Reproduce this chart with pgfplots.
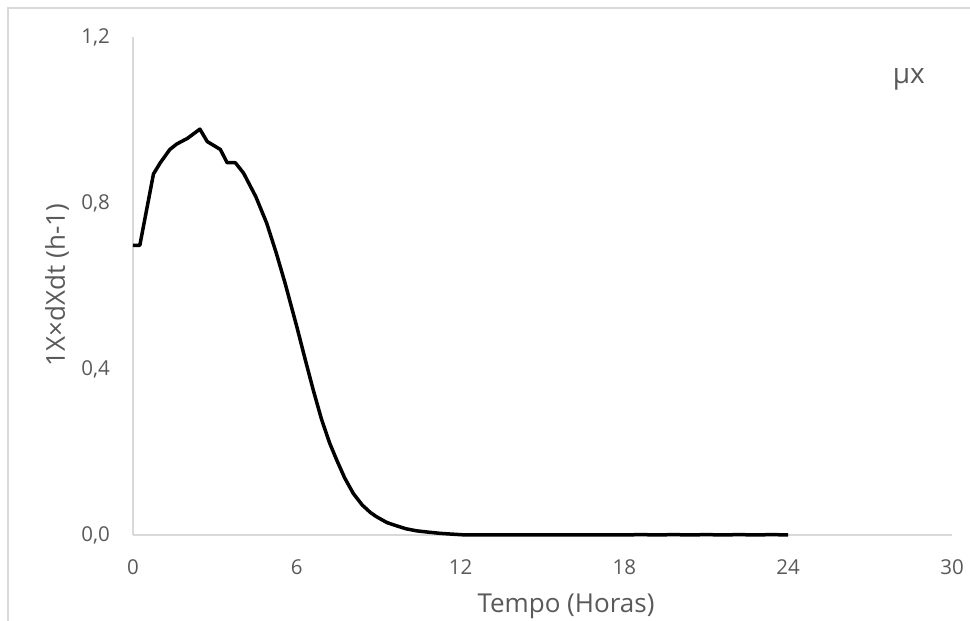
\documentclass[border=0pt]{standalone}
\usepackage{fontspec}
\setmainfont{Open Sans}
\usepackage{pgfplots}
\pgfplotsset{compat=1.18}
\definecolor{txtgray}{HTML}{595959}
\definecolor{axgray}{HTML}{D9D9D9}

\begin{document}
\begin{tikzpicture}
\begin{axis}[
    scale only axis,
    width=819pt, height=498pt,
    xmin=0, xmax=30, ymin=0, ymax=1.2,
    axis lines=left,
    axis line style={-, draw=axgray, line width=1.3pt},
    xtick={0,6,...,30},
    ytick={0,0.4,0.8,1.2},
    major tick length=0pt,
    /pgf/number format/assume math mode=true,
    yticklabel style={/pgf/number format/fixed, /pgf/number format/fixed zerofill,
        /pgf/number format/precision=1, /pgf/number format/use comma},
    ticklabel style={font=\fontsize{20.5}{24}\selectfont, text=txtgray, inner sep=0pt},
    xticklabel style={anchor=base, yshift=-40pt},
    yticklabel style={anchor=east, xshift=-23pt},
    clip=false,
]
% mu_x over time (h)
\addplot[black, line width=3.5pt, line join=round] coordinates {
(0,0.698) (0.25,0.698) (0.75,0.870) (1.0,0.897) (1.35,0.929) (1.6,0.942)
(2.0,0.956) (2.45,0.978) (2.72,0.948) (3.2,0.929) (3.45,0.897) (3.75,0.897)
(4.05,0.872) (4.5,0.815) (4.9,0.751) (5.25,0.679) (5.57,0.607) (6.0,0.502)
(6.3,0.425) (6.6,0.350) (6.9,0.280) (7.2,0.222) (7.46,0.181) (7.75,0.138)
(8.07,0.100) (8.4,0.072) (8.7,0.054) (8.92,0.044) (9.3,0.030) (9.66,0.022)
(10.0,0.015) (10.39,0.010) (10.8,0.007) (11.25,0.004) (11.7,0.002) (12.2,0.000)
(13,0) (14,0) (15,0) (16,0) (17,0) (18,0) (18.6,0.001) (19.2,0) (19.8,0.001)
(20.4,0) (21,0.001) (21.6,0) (22.2,0.001) (22.8,0) (23.4,0.001) (24,0)
};
\node[anchor=base, text=txtgray, font=\fontsize{26}{30}\selectfont]
    at ([yshift=-78pt]axis description cs:0.5287,0) {Tempo (Horas)};
\node[rotate=90, anchor=base, text=txtgray, font=\fontsize{26}{30}\selectfont]
    at ([xshift=-68pt]axis description cs:0,0.502) {1X×dXdt (h-1)};
\node[anchor=base, text=txtgray, font=\fontsize{28}{32}\selectfont]
    at (axis cs:28.42,1.089) {µx};
\end{axis}
\draw[axgray, line width=2pt] (-125pt,-86pt) -- (-125pt,527pt) -- (837pt,527pt);
\pgfresetboundingbox
\path (-133pt,-86pt) rectangle (837pt,535pt);
\end{tikzpicture}
\end{document}
